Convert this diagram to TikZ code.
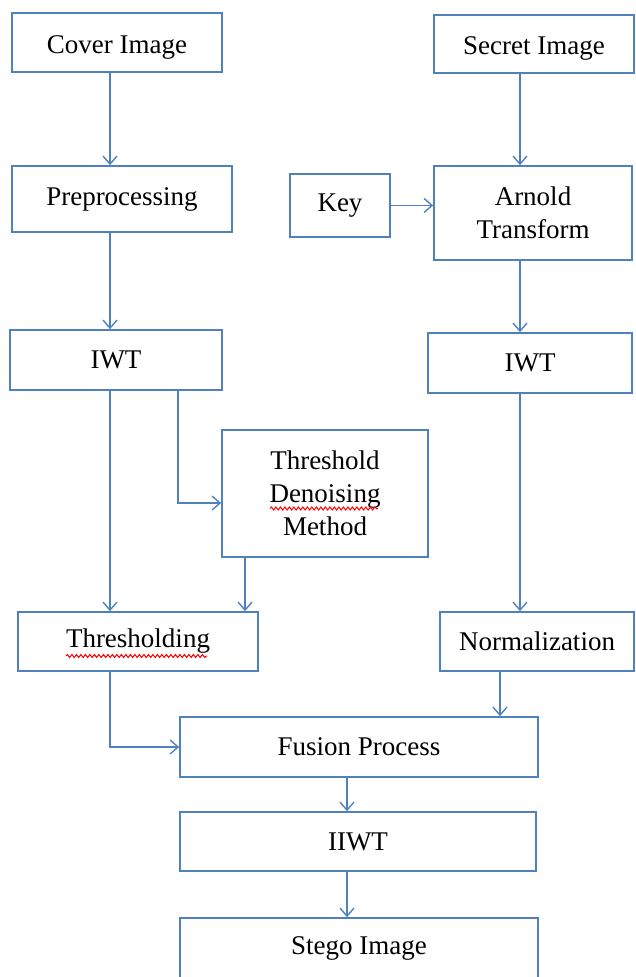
\documentclass[tikz,border=0pt]{standalone}
\usepackage{fontspec}
\setmainfont{Liberation Serif}
\usepackage{tikz}
\usetikzlibrary{arrows.meta,positioning,calc,decorations.pathmorphing}
\definecolor{boxblue}{HTML}{4F81BD}

\begin{document}
\begin{tikzpicture}[x=1pt, y=-1pt,
    box/.style={rectangle, draw=boxblue, line width=1.7pt, fill=white, align=center,
                font=\fontsize{27}{33}\selectfont, inner sep=0pt},
    arr/.style={-{Straight Barb[length=8pt, width=14pt, line width=1.4pt]}, line width=1.7pt, boxblue},
    squiggle/.style={red, line width=1pt, decorate,
                     decoration={snake, segment length=4.5pt, amplitude=1.5pt}}]

    \useasboundingbox (0,0) rectangle (635,977);
    \clip (0,0) rectangle (635,977);

    % Column guides
    \coordinate (colL) at (110,0);
    \coordinate (colT) at (178,0);
    \coordinate (colD) at (245,0);
    \coordinate (colM) at (347,0);
    \coordinate (colN) at (500,0);
    \coordinate (colR) at (520,0);
    \coordinate (rowD) at (0,503);

    % Cover branch
    \node[box, minimum width=210pt, minimum height=59pt] (cover) at (117,42.5) {\raisebox{-5pt}[\height][\depth]{Cover Image}};
    \node[box, minimum width=220pt, minimum height=66pt] (prep) at (122,199) {Preprocessing};
    \node[box, minimum width=212pt, minimum height=60pt] (iwtL) at (116,360) {IWT};
    \node[box, minimum width=206pt, minimum height=127pt] (den) at (325,493.5) {Threshold\\Denoising\\Method};
    \node[box, minimum width=240pt, minimum height=59pt] (thr) at (138,641.5) {Thresholding};

    % Secret branch
    \node[box, minimum width=200pt, minimum height=58pt] (secret) at (534,44) {\raisebox{-4pt}[\height][\depth]{Secret Image}};
    \node[box, minimum width=100pt, minimum height=63pt] (key) at (340,205.5) {Key};
    \node[box, minimum width=198pt, minimum height=94pt] (arnold) at (533,213) {Arnold\\Transform};
    \node[box, minimum width=204pt, minimum height=60pt] (iwtR) at (530,363) {IWT};
    \node[box, minimum width=194pt, minimum height=59pt] (norm) at (537,641.5) {Normalization};

    % Merge
    \node[box, minimum width=358pt, minimum height=60pt] (fus) at (359,747) {Fusion Process};
    \node[box, minimum width=356pt, minimum height=59pt] (iiwt) at (358,841.5) {IIWT};
    \node[box, minimum width=358pt, minimum height=60pt] (stego) at (359,948) {Stego Image};

    % Spell-check marks
    \draw[squiggle] ($(den.center)+(-55,15)$) -- ($(den.center)+(53,15)$);
    \draw[squiggle] ($(thr.center)+(-72,14.5)$) -- ($(thr.center)+(69,14.5)$);

    % Arrows
    \draw[arr] (cover.south -| colL) -- (prep.north -| colL);
    \draw[arr] (prep.south -| colL) -- (iwtL.north -| colL);
    \draw[arr] (iwtL.south -| colL) -- (thr.north -| colL);
    \draw[arr] (iwtL.south -| colT) |- (den.west |- rowD);
    \draw[arr] (den.south -| colD) -- (thr.north -| colD);
    \draw[arr] (secret.south -| colR) -- (arnold.north -| colR);
    \draw[arr] (key.east) -- (key.east -| arnold.west);
    \draw[arr] (arnold.south -| colR) -- (iwtR.north -| colR);
    \draw[arr] (iwtR.south -| colR) -- (norm.north -| colR);
    \draw[arr] (thr.south -| colL) |- (fus.west);
    \draw[arr] (norm.south -| colN) -- (fus.north -| colN);
    \draw[arr] (fus.south -| colM) -- (iiwt.north -| colM);
    \draw[arr] (iiwt.south -| colM) -- (stego.north -| colM);
\end{tikzpicture}
\end{document}
